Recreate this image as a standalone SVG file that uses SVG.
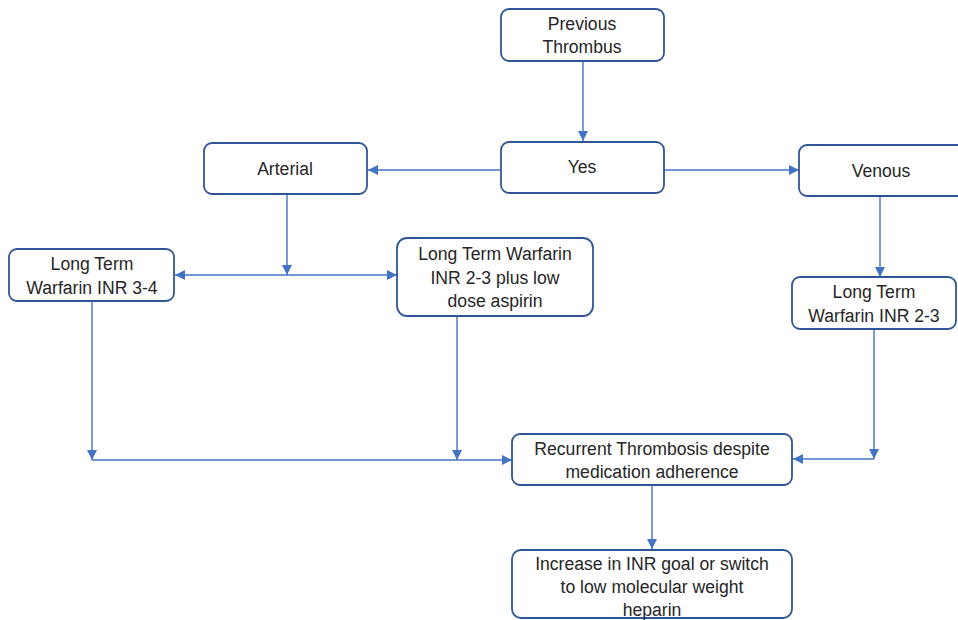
<svg xmlns="http://www.w3.org/2000/svg" width="958" height="620" viewBox="0 0 958 620">
<style>
.box{fill:#fff;stroke:#2f5597;stroke-width:1.8}
.t{font-family:"Liberation Sans",Arial,sans-serif;font-size:17.6px;fill:#262626;text-anchor:middle}
.c{fill:none;stroke:#4472c4;stroke-width:1.4}
</style>
<defs>
<marker id="a" viewBox="0 0 10 10" refX="10" refY="5" markerWidth="10" markerHeight="10" markerUnits="userSpaceOnUse" orient="auto-start-reverse">
<path d="M0,0 L10,5 L0,10 z" fill="#4472c4"/>
</marker>
</defs>
<rect width="958" height="620" fill="#fff"/>
<g id="connectors">
<path class="c" d="M583,62 V141" marker-end="url(#a)"/>
<path class="c" d="M500,170 H368" marker-end="url(#a)"/>
<path class="c" d="M664,170 H799" marker-end="url(#a)"/>
<path class="c" d="M287,195 V275" marker-end="url(#a)"/>
<path class="c" d="M175,275 H397" marker-start="url(#a)" marker-end="url(#a)"/>
<path class="c" d="M880,197 V277" marker-end="url(#a)"/>
<path class="c" d="M92,301 V460" marker-end="url(#a)"/>
<path class="c" d="M457,316 V460" marker-end="url(#a)"/>
<path class="c" d="M92,460 H512" marker-end="url(#a)"/>
<path class="c" d="M874,329 V459" marker-end="url(#a)"/>
<path class="c" d="M874,459 H793" marker-end="url(#a)"/>
<path class="c" d="M652,485 V549" marker-end="url(#a)"/>
</g>
<g id="previous">
<rect class="box" x="501" y="9" width="163" height="52" rx="8"/>
<text class="t" x="582" y="30">Previous</text>
<text class="t" x="582" y="53">Thrombus</text>
</g>
<g id="yes">
<rect class="box" x="501" y="142" width="163" height="51" rx="8"/>
<text class="t" x="582" y="173">Yes</text>
</g>
<g id="arterial">
<rect class="box" x="204" y="143" width="163" height="51" rx="8"/>
<text class="t" x="285" y="175">Arterial</text>
</g>
<g id="venous">
<rect class="box" x="799" y="145" width="170" height="51" rx="8"/>
<text class="t" x="881" y="177">Venous</text>
</g>
<g id="lt34">
<rect class="box" x="9" y="249" width="165" height="52" rx="8"/>
<text class="t" x="92" y="270">Long Term</text>
<text class="t" x="92" y="294">Warfarin INR 3-4</text>
</g>
<g id="ltasp">
<rect class="box" x="397" y="238" width="196" height="78" rx="10"/>
<text class="t" x="495" y="260">Long Term Warfarin</text>
<text class="t" x="495" y="284">INR 2-3 plus low</text>
<text class="t" x="495" y="307">dose aspirin</text>
</g>
<g id="lt23">
<rect class="box" x="792" y="277" width="164" height="52" rx="8"/>
<text class="t" x="874" y="298">Long Term</text>
<text class="t" x="874" y="322">Warfarin INR 2-3</text>
</g>
<g id="recurrent">
<rect class="box" x="512" y="434" width="280" height="51" rx="8"/>
<text class="t" x="652" y="455">Recurrent Thrombosis despite</text>
<text class="t" x="652" y="478">medication adherence</text>
</g>
<g id="increase">
<rect class="box" x="512" y="550" width="280" height="68" rx="9"/>
<text class="t" x="652" y="570">Increase in INR goal or switch</text>
<text class="t" x="652" y="593">to low molecular weight</text>
<text class="t" x="652" y="616">heparin</text>
</g>
</svg>
